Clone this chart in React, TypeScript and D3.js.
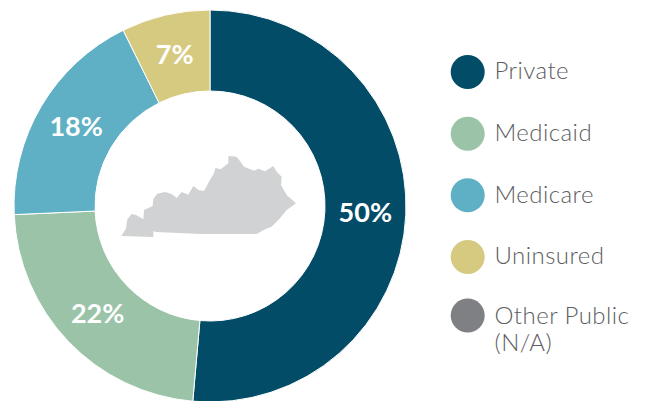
import React from "react";
import * as d3 from "d3";

const categories = ["Private", "Medicaid", "Medicare", "Uninsured"];
const shares = [51.4, 22.9, 18.4, 7.3];
const shareLabels = ["50%", "22%", "18%", "7%"];
const sliceColors = ["#034c68", "#9ac3a8", "#60b0c5", "#d6ca80"];
const legendNames = [["Private"], ["Medicaid"], ["Medicare"], ["Uninsured"], ["Other Public", "(N/A)"]];
const legendColors = ["#034c68", "#9ac3a8", "#60b0c5", "#d6ca80", "#7f8084"];
const legendRows = [71, 132.7, 194.2, 256, 316];
// Kentucky outline, in its own drawing units
const outline: [number, number][] = [
  [64, 318], [70, 308], [78, 296], [82, 268], [95, 252], [110, 256], [130, 268], [132, 240], [158, 228], [160, 206],
  [172, 191], [195, 186], [215, 192], [230, 204], [245, 186], [265, 194], [280, 168], [295, 180], [312, 183], [330, 150],
  [342, 130], [346, 114], [362, 118], [385, 100], [385, 78], [410, 80], [425, 100], [432, 110], [462, 122], [475, 116],
  [495, 124], [520, 108], [530, 125], [545, 140], [543, 165], [560, 195], [588, 220], [560, 240], [540, 265], [515, 290],
  [495, 298], [470, 312], [300, 312], [170, 306], [160, 304], [160, 321],
];

const W = 646, H = 401, CX = 210, CY = 206, R = 196, r = 115;

export default function App() {
  const pie = d3.pie<number>().sort(null)(shares);
  const arc = d3.arc<d3.PieArcDatum<number>>().innerRadius(r).outerRadius(R);
  const x = d3.scaleLinear().domain([0, 660]).range([100, 320]);
  const y = d3.scaleLinear().domain([0, 390]).range([130, 260]);
  const shape = d3.line<[number, number]>().x((d) => x(d[0])).y((d) => y(d[1])).curve(d3.curveLinearClosed);
  const rowY = d3.scaleOrdinal<string, number>().domain(legendNames.map((n) => n[0])).range(legendRows);

  return (
    <svg width={W} height={H} style={{ position: "absolute", left: 0, top: 0, background: "#fff" }}
      fontFamily="Lato, sans-serif">
      <g transform={`translate(${CX},${CY})`}>
        {pie.map((d, i) => (
          <path key={categories[i]} d={arc(d)!} fill={sliceColors[i]} stroke="#fff" strokeWidth={1} />
        ))}
        {pie.map((d, i) => {
          const [lx, ly] = arc.centroid(d);
          return (
            <text key={i} x={lx} y={ly} dy="0.35em" textAnchor="middle" fill="#fff" fontSize={27} fontWeight={700}>
              {shareLabels[i]}
            </text>
          );
        })}
      </g>
      <path d={shape(outline)!} fill="#d1d2d4" />
      {legendNames.map((lines, i) => {
        const cy = rowY(lines[0]);
        return (
          <g key={lines[0]}>
            <circle cx={467.7} cy={legendRows[i] + (i === 4 ? -0.5 : 1)} r={17} fill={legendColors[i]} />
            {lines.map((t, j) => (
              <text key={t} x={494.5} y={cy + j * 27} dy="0.35em" fontSize={24} letterSpacing={0.45} fontWeight={300} fill="#5c5d60">
                {t}
              </text>
            ))}
          </g>
        );
      })}
    </svg>
  );
}
